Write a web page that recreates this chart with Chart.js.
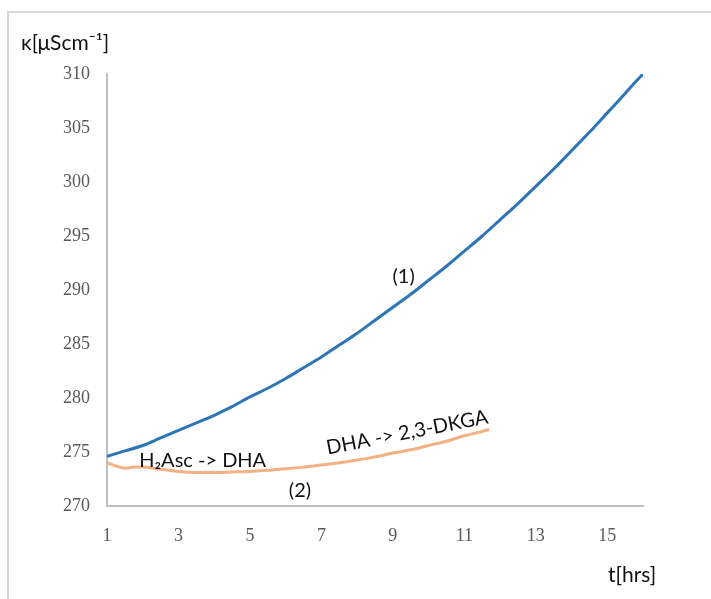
<!DOCTYPE html>
<html>
<head>
<meta charset="utf-8">
<script src="https://cdn.jsdelivr.net/npm/chart.js@4"></script>
<style>
  html, body { margin: 0; padding: 0; background: #fff; }
  canvas { display: block; }
</style>
</head>
<body>
<canvas id="c" width="711" height="599"></canvas>
<script>
// Time axis (hours) and conductivity readings κ [μS/cm]
const hours1 = [1.0, 1.5, 2.0, 2.5, 3.0, 3.5, 4.0, 4.5, 5.0, 5.5, 6.0, 6.5, 7.0, 7.5, 8.0, 8.5,
                9.0, 9.5, 10.0, 10.5, 11.0, 11.5, 12.0, 12.5, 13.0, 13.5, 14.0, 14.5, 15.0, 15.5, 15.8, 16.0];
const kappa1 = [274.6, 275.1, 275.6, 276.3, 277.0, 277.7, 278.4, 279.2, 280.1, 280.9, 281.8, 282.8, 283.8, 284.9, 286.0, 287.2,
                288.4, 289.6, 290.9, 292.2, 293.6, 295.0, 296.5, 298.0, 299.6, 301.2, 302.9, 304.6, 306.4, 308.2, 309.3, 310.0];

const hours2 = [1.0, 1.25, 1.5, 1.75, 2.0, 2.5, 3.0, 3.5, 4.0, 4.5, 5.0, 5.5, 6.0, 6.5, 7.0, 7.5,
                8.0, 8.5, 9.0, 9.5, 10.0, 10.5, 11.0, 11.5, 11.7];
const kappa2 = [274.0, 273.7, 273.5, 273.6, 273.6, 273.4, 273.2, 273.1, 273.1, 273.15, 273.2, 273.3, 273.45, 273.6, 273.8, 274.0,
                274.25, 274.55, 274.9, 275.2, 275.6, 276.0, 276.5, 276.9, 277.1];

const xTickValues = [1, 3, 5, 7, 9, 11, 13, 15];
const yTickValues = [270, 275, 280, 285, 290, 295, 300, 305, 310];

const yTitle = 'κ[μScm⁻¹]';
const xTitle = 't[hrs]';
const curveLabels = ['(1)', '(2)'];
const stepLabels = ['H₂Asc -> DHA', 'DHA -> 2,3-DKGA'];

const toPoints = (xs, ys) => xs.map((x, i) => ({ x, y: ys[i] }));

const SANS = 'Lato, "Open Sans", sans-serif';
const SERIF = '"Liberation Serif", "DejaVu Serif", serif';

// Frame lines, axis titles and in-plot labels
const decorations = {
  id: 'decorations',
  beforeDraw(chart) {
    const ctx = chart.ctx;
    ctx.save();
    ctx.strokeStyle = '#d9d9d9';
    ctx.lineWidth = 2;
    ctx.beginPath();
    ctx.moveTo(8, 599);
    ctx.lineTo(8, 12);
    ctx.lineTo(711, 12);
    ctx.stroke();
    ctx.restore();
  },
  afterDraw(chart) {
    const ctx = chart.ctx;
    const xs = chart.scales.x, ys = chart.scales.y;
    ctx.save();
    ctx.fillStyle = '#111';
    ctx.textBaseline = 'middle';

    ctx.font = '21px ' + SANS;
    ctx.textAlign = 'left';
    ctx.fillText(yTitle, 21, 43);
    ctx.fillText(xTitle, 608, 575);

    ctx.font = '20px ' + SANS;
    ctx.textAlign = 'center';
    ctx.fillText(curveLabels[0], xs.getPixelForValue(9.3), ys.getPixelForValue(291.2));
    ctx.fillText(curveLabels[1], xs.getPixelForValue(6.4), ys.getPixelForValue(271.4));

    ctx.textAlign = 'left';
    ctx.fillText(stepLabels[0], xs.getPixelForValue(1.9), ys.getPixelForValue(274.2));

    ctx.save();
    ctx.translate(xs.getPixelForValue(9.4), ys.getPixelForValue(276.8));
    ctx.rotate(-11 * Math.PI / 180);
    ctx.textAlign = 'center';
    ctx.fillText(stepLabels[1], 0, 0);
    ctx.restore();

    ctx.restore();
  }
};

new Chart(document.getElementById('c'), {
  type: 'line',
  data: {
    datasets: [
      {
        data: toPoints(hours1, kappa1),
        borderColor: '#2e75b6',
        borderWidth: 3,
        pointRadius: 0,
        cubicInterpolationMode: 'monotone',
        fill: false
      },
      {
        data: toPoints(hours2, kappa2),
        borderColor: '#f4b183',
        borderWidth: 3,
        pointRadius: 0,
        cubicInterpolationMode: 'monotone',
        fill: false
      }
    ]
  },
  options: {
    responsive: false,
    animation: false,
    devicePixelRatio: 1,
    layout: { padding: { top: 74, right: 68, left: 0, bottom: 0 } },
    plugins: { legend: { display: false }, tooltip: { enabled: false } },
    scales: {
      x: {
        type: 'linear',
        min: 1,
        max: 16,
        afterBuildTicks: (axis) => { axis.ticks = xTickValues.map(v => ({ value: v })); },
        afterFit: (axis) => { axis.height = 93; },
        grid: { display: false, drawTicks: false },
        border: { display: true, color: '#bfbfbf', width: 2 },
        ticks: {
          padding: 19,
          color: '#595959',
          font: { family: SERIF, size: 18 },
          maxRotation: 0,
          autoSkip: false
        }
      },
      y: {
        type: 'linear',
        min: 270,
        max: 310,
        afterBuildTicks: (axis) => { axis.ticks = yTickValues.map(v => ({ value: v })); },
        afterFit: (axis) => { axis.width = 107; },
        grid: { display: false, drawTicks: false },
        border: { display: true, color: '#bfbfbf', width: 2 },
        ticks: {
          padding: 17,
          color: '#595959',
          font: { family: SERIF, size: 18 }
        }
      }
    }
  },
  plugins: [decorations]
});
</script>
</body>
</html>
